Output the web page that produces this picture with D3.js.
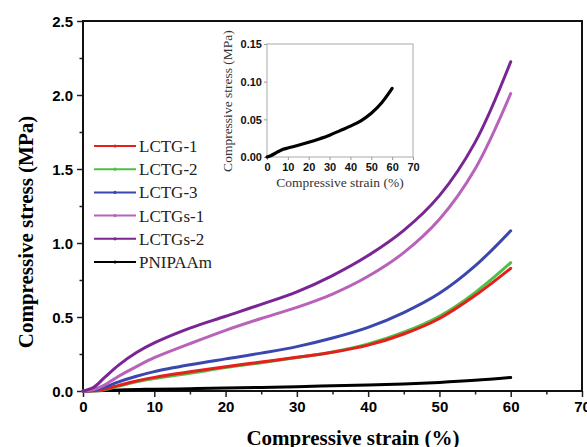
<!DOCTYPE html>
<html><head><meta charset="utf-8">
<script src="https://cdn.jsdelivr.net/npm/d3@7"></script>
<style>html,body{margin:0;padding:0;background:#fff;}svg{display:block;}</style>
</head><body>
<svg id="chart" width="587" height="447"></svg>
<script>
// ---- data ----
const strain = [0, 1.5, 3, 5, 7.5, 10, 15, 20, 25, 30, 35, 40, 45, 50, 55, 60];
const seriesNames = ["LCTG-1", "LCTG-2", "LCTG-3", "LCTGs-1", "LCTGs-2", "PNIPAAm"];
const seriesColors = ["#e4201c", "#4fbf48", "#3a47ae", "#b862ba", "#7a2594", "#000000"];
const lctg1  = [0, 0.002, 0.012, 0.038, 0.068, 0.092, 0.130, 0.164, 0.196, 0.228, 0.262, 0.310, 0.385, 0.490, 0.645, 0.829];
const lctg2  = [0, 0.001, 0.009, 0.033, 0.062, 0.085, 0.120, 0.158, 0.191, 0.226, 0.264, 0.318, 0.397, 0.505, 0.665, 0.867];
const lctg3  = [0, 0.005, 0.025, 0.062, 0.100, 0.131, 0.177, 0.217, 0.256, 0.300, 0.358, 0.430, 0.530, 0.660, 0.845, 1.083];
const lctgs1 = [0, 0.010, 0.040, 0.100, 0.165, 0.225, 0.320, 0.410, 0.490, 0.565, 0.655, 0.775, 0.935, 1.160, 1.500, 2.010];
const lctgs2 = [0, 0.025, 0.090, 0.175, 0.260, 0.325, 0.425, 0.505, 0.585, 0.670, 0.780, 0.915, 1.085, 1.320, 1.680, 2.225];
const pnipaStrain = [0, 2, 4, 6, 8, 10, 15, 20, 25, 30, 35, 40, 45, 50, 55, 60];
const pnipa = [0, 0.002, 0.005, 0.008, 0.0105, 0.012, 0.0155, 0.0195, 0.024, 0.029, 0.035, 0.041, 0.048, 0.058, 0.072, 0.091];
const xTicks = [0, 10, 20, 30, 40, 50, 60, 70];
const yTicks = [0.0, 0.5, 1.0, 1.5, 2.0, 2.5];
const insetXTicks = [0, 10, 20, 30, 40, 50, 60, 70];
const insetYTicks = [0.00, 0.05, 0.10, 0.15];

const svg = d3.select("#chart");
const L = 83, R = 582, T = 21, B = 391;
const x = d3.scaleLinear().domain([0, 70]).range([L, R]);
const y = d3.scaleLinear().domain([0, 2.5]).range([B, T]);

// axes
const xAxis = svg.append("g").attr("transform", `translate(0,${B})`)
  .call(d3.axisBottom(x).tickValues(xTicks).tickSize(6).tickSizeOuter(0).tickFormat(d3.format("d")));
const xMinor = svg.append("g").attr("transform", `translate(0,${B})`)
  .call(d3.axisBottom(x).tickValues(d3.range(5, 70, 10)).tickSize(3.5).tickSizeOuter(0).tickFormat(""));
const yAxis = svg.append("g").attr("transform", `translate(${L},0)`)
  .call(d3.axisLeft(y).tickValues(yTicks).tickSize(6).tickSizeOuter(0).tickFormat(d3.format(".1f")));
const yMinor = svg.append("g").attr("transform", `translate(${L},0)`)
  .call(d3.axisLeft(y).tickValues(d3.range(0.25, 2.5, 0.5)).tickSize(3.5).tickSizeOuter(0).tickFormat(""));
[xAxis, xMinor, yAxis, yMinor].forEach(g => {
  g.select(".domain").remove();
  g.selectAll("line").attr("stroke", "#222").attr("stroke-width", 1.5);
});
xAxis.selectAll("text").attr("font-family", "Liberation Sans, Arial, sans-serif").attr("font-weight", "bold")
  .attr("font-size", 15).attr("fill", "#000").attr("dy", "0").attr("y", 21);
yAxis.selectAll("text").attr("font-family", "Liberation Sans, Arial, sans-serif").attr("font-weight", "bold")
  .attr("font-size", 15).attr("fill", "#000").attr("x", -10).attr("dy", "0.35em");

// frame
svg.append("rect").attr("x", L).attr("y", T).attr("width", R - L).attr("height", B - T)
  .attr("fill", "none").attr("stroke", "#111").attr("stroke-width", 2);

// axis titles
svg.append("text").attr("x", 353).attr("y", 445).attr("text-anchor", "middle")
  .attr("font-family", "Liberation Serif, Times New Roman, serif").attr("font-weight", "bold").attr("font-size", 21)
  .text("Compressive strain (%)");
svg.append("text").attr("transform", "translate(33,232) rotate(-90)").attr("text-anchor", "middle")
  .attr("font-family", "Liberation Serif, Times New Roman, serif").attr("font-weight", "bold").attr("font-size", 21)
  .text("Compressive stress (MPa)");

// curves
const line = d3.line().x(d => x(d[0])).y(d => y(d[1])).curve(d3.curveCatmullRom.alpha(0.5));
const allSeries = [lctg1, lctg2, lctg3, lctgs1, lctgs2];
const drawOrder = [5, 1, 0, 2, 3, 4];
drawOrder.forEach(i => {
  const pts = i === 5 ? pnipaStrain.map((s, k) => [s, pnipa[k]]) : strain.map((s, k) => [s, allSeries[i][k]]);
  svg.append("path").datum(pts).attr("d", line).attr("fill", "none")
    .attr("stroke", seriesColors[i]).attr("stroke-width", 3).attr("stroke-linecap", "round");
});

// legend
seriesNames.forEach((n, i) => {
  const ly = 146 + i * 23.2;
  svg.append("line").attr("x1", 94).attr("x2", 136).attr("y1", ly).attr("y2", ly)
    .attr("stroke", seriesColors[i]).attr("stroke-width", 2);
  svg.append("circle").attr("cx", 115).attr("cy", ly).attr("r", 1.6).attr("fill", seriesColors[i]);
  svg.append("text").attr("x", 139).attr("y", ly + 6)
    .attr("font-family", "Liberation Serif, Times New Roman, serif").attr("font-size", 17).attr("fill", "#222")
    .text(n);
});

// inset
const iL = 267, iR = 413, iT = 44, iB = 157;
const ix = d3.scaleLinear().domain([0, 70]).range([iL, iR]);
const iy = d3.scaleLinear().domain([0, 0.15]).range([iB, iT]);
const ixAxis = svg.append("g").attr("transform", `translate(0,${iB})`)
  .call(d3.axisBottom(ix).tickValues(insetXTicks).tickSize(3).tickSizeOuter(0).tickFormat(d3.format("d")));
const iyAxis = svg.append("g").attr("transform", `translate(${iL},0)`)
  .call(d3.axisLeft(iy).tickValues(insetYTicks).tickSize(3).tickSizeOuter(0).tickFormat(d3.format(".2f")));
[ixAxis, iyAxis].forEach(g => {
  g.select(".domain").remove();
  g.selectAll("line").attr("stroke", "#999").attr("stroke-width", 1);
  g.selectAll("text").attr("font-family", "Liberation Sans, Arial, sans-serif").attr("font-weight", "bold")
    .attr("font-size", 11).attr("fill", "#111");
});
ixAxis.selectAll("text").attr("dy", "0").attr("y", 14);
iyAxis.selectAll("text").attr("x", -5).attr("dy", "0.35em");
svg.append("rect").attr("x", iL).attr("y", iT).attr("width", iR - iL).attr("height", iB - iT)
  .attr("fill", "none").attr("stroke", "#aaa").attr("stroke-width", 1);
const iline = d3.line().x(d => ix(d[0])).y(d => iy(d[1])).curve(d3.curveCatmullRom.alpha(0.5));
svg.append("path").datum(pnipaStrain.map((s, k) => [s, pnipa[k]])).attr("d", iline)
  .attr("fill", "none").attr("stroke", "#000").attr("stroke-width", 3.2).attr("stroke-linecap", "round");
svg.append("text").attr("x", 340).attr("y", 187).attr("text-anchor", "middle")
  .attr("font-family", "Liberation Serif, Times New Roman, serif").attr("font-size", 13.5).attr("fill", "#333")
  .text("Compressive strain (%)");
svg.append("text").attr("transform", "translate(232,101) rotate(-90)").attr("text-anchor", "middle")
  .attr("font-family", "Liberation Serif, Times New Roman, serif").attr("font-size", 13.5).attr("fill", "#333")
  .text("Compressive stress (MPa)");
</script>
</body></html>
